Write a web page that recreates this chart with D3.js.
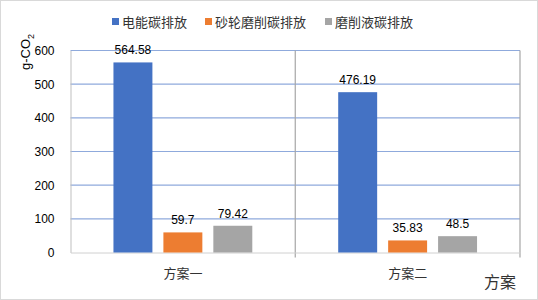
<!DOCTYPE html>
<html>
<head>
<meta charset="utf-8">
<script src="https://cdn.jsdelivr.net/npm/d3@7"></script>
<style>
  body { margin: 0; background: #fff; }
  text { font-family: "Liberation Sans", "Noto Sans CJK SC", sans-serif; }
</style>
</head>
<body>
<div id="chart"></div>
<script>
// data
const categories = ["方案一", "方案二"];
const seriesNames = ["电能碳排放", "砂轮磨削碳排放", "磨削液碳排放"];
const electricity = [564.58, 476.19];
const wheel = [59.7, 35.83];
const fluid = [79.42, 48.5];
const yTicks = [0, 100, 200, 300, 400, 500, 600];
const colors = ["#4472C4", "#ED7D31", "#A5A5A5"];

const seriesValues = [electricity, wheel, fluid];

const width = 538, height = 300;
const margin = {top: 50.5, right: 18, bottom: 47.5, left: 70.5};
const innerW = width - margin.left - margin.right;
const innerH = height - margin.top - margin.bottom;

const svg = d3.select("#chart")
  .append("svg")
  .attr("width", width)
  .attr("height", height);

// outer border
svg.append("rect")
  .attr("x", 0.5).attr("y", 0.5)
  .attr("width", width - 1).attr("height", height - 1)
  .attr("fill", "#fff")
  .attr("stroke", "#d9d9d9");

const g = svg.append("g")
  .attr("transform", `translate(${margin.left}, ${margin.top})`);

const x0 = d3.scaleBand()
  .domain(categories)
  .range([0, innerW]);

const x1 = d3.scaleBand()
  .domain(seriesNames)
  .range([0, x0.bandwidth()])
  .paddingInner(0.22)
  .paddingOuter(0.86);

const yScale = d3.scaleLinear()
  .domain([0, 600])
  .range([innerH, 0]);

// horizontal gridlines
g.append("g")
  .selectAll("line")
  .data(yTicks.filter(d => d > 0))
  .join("line")
  .attr("x1", 0).attr("x2", innerW)
  .attr("y1", d => yScale(d)).attr("y2", d => yScale(d))
  .attr("stroke", "#8FAADC")
  .attr("stroke-width", 1.2);

// vertical category boundaries
g.append("g")
  .selectAll("line")
  .data(categories)
  .join("line")
  .attr("x1", d => x0(d) + x0.bandwidth()).attr("x2", d => x0(d) + x0.bandwidth())
  .attr("y1", 0).attr("y2", innerH + 5)
  .attr("stroke", "#A6A6A6")
  .attr("stroke-width", 1.2);

// y axis
const yAxis = g.append("g")
  .call(d3.axisLeft(yScale).tickValues(yTicks).tickSize(0).tickPadding(16));
yAxis.select(".domain").attr("stroke", "#BFBFBF");
yAxis.selectAll("text")
  .attr("font-size", 12)
  .attr("fill", "#000");

// x axis
const xAxis = g.append("g")
  .attr("transform", `translate(0,${innerH})`)
  .call(d3.axisBottom(x0).tickSize(0).tickPadding(16));
xAxis.select(".domain").attr("stroke", "#D0D0D0");
xAxis.selectAll("text")
  .attr("font-size", 13)
  .attr("font-family", "Noto Sans CJK SC")
  .attr("fill", "#333");

// bars
const groups = g.append("g")
  .selectAll("g")
  .data(categories)
  .join("g")
  .attr("transform", d => `translate(${x0(d)},0)`);

groups.selectAll("rect")
  .data((d, i) => seriesNames.map((s, j) => ({s, j, v: seriesValues[j][i]})))
  .join("rect")
  .attr("x", d => x1(d.s))
  .attr("width", x1.bandwidth())
  .attr("y", d => yScale(d.v))
  .attr("height", d => innerH - yScale(d.v))
  .attr("fill", d => colors[d.j]);

groups.selectAll("text.val")
  .data((d, i) => seriesNames.map((s, j) => ({s, j, v: seriesValues[j][i]})))
  .join("text")
  .attr("class", "val")
  .attr("x", d => x1(d.s) + x1.bandwidth() / 2)
  .attr("y", d => yScale(d.v) - 8)
  .attr("text-anchor", "middle")
  .attr("font-size", 12)
  .attr("fill", "#000")
  .text(d => d.v);

// y axis title
const yTitle = svg.append("text")
  .attr("transform", "translate(30, 52) rotate(-90)")
  .attr("text-anchor", "middle")
  .attr("font-size", 13)
  .attr("fill", "#000");
yTitle.append("tspan").text("g-CO");
yTitle.append("tspan").attr("font-size", 9).attr("dy", 4).text("2");

// x axis title
svg.append("text")
  .attr("x", 500)
  .attr("y", 288)
  .attr("text-anchor", "middle")
  .attr("font-size", 16)
  .attr("font-family", "Noto Sans CJK SC")
  .attr("fill", "#333")
  .text("方案");

// legend
const legendX = [112, 205, 325];
const legend = svg.append("g")
  .selectAll("g")
  .data(seriesNames)
  .join("g")
  .attr("transform", (d, i) => `translate(${legendX[i]}, 22)`);
legend.append("rect")
  .attr("x", 0).attr("y", -4)
  .attr("width", 7).attr("height", 7)
  .attr("fill", (d, i) => colors[i]);
legend.append("text")
  .attr("x", 10).attr("y", 4.5)
  .attr("font-size", 13)
  .attr("font-family", "Noto Sans CJK SC")
  .attr("fill", "#333")
  .text(d => d);
</script>
</body>
</html>
